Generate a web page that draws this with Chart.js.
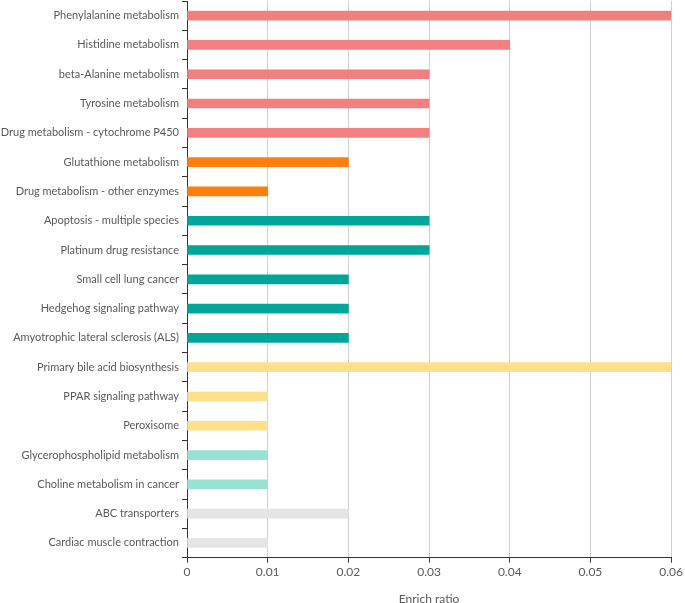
<!DOCTYPE html>
<html>
<head>
<meta charset="utf-8">
<script src="https://cdn.jsdelivr.net/npm/chart.js@4/dist/chart.umd.min.js"></script>
<style>
html,body{margin:0;padding:0;background:#fff;}
#wrap{width:685px;height:603px;position:relative;}
</style>
</head>
<body>
<div id="wrap"><canvas id="c"></canvas></div>
<script>
const categories = [
  "Phenylalanine metabolism",
  "Histidine metabolism",
  "beta-Alanine metabolism",
  "Tyrosine metabolism",
  "Drug metabolism - cytochrome P450",
  "Glutathione metabolism",
  "Drug metabolism - other enzymes",
  "Apoptosis - multiple species",
  "Platinum drug resistance",
  "Small cell lung cancer",
  "Hedgehog signaling pathway",
  "Amyotrophic lateral sclerosis (ALS)",
  "Primary bile acid biosynthesis",
  "PPAR signaling pathway",
  "Peroxisome",
  "Glycerophospholipid metabolism",
  "Choline metabolism in cancer",
  "ABC transporters",
  "Cardiac muscle contraction"
];
const enrichRatio = [0.06, 0.04, 0.03, 0.03, 0.03, 0.02, 0.01, 0.03, 0.03, 0.02, 0.02, 0.02, 0.06, 0.01, 0.01, 0.01, 0.01, 0.02, 0.01];
const groupIndex = [0,0,0,0,0,1,1,2,2,2,2,2,3,3,3,4,4,5,5];
const groupColors = ["#F28080", "#FF7F0E", "#00A69A", "#FFE08A", "#98E2D4", "#E5E5E5"];
const xTicks = [0, 0.01, 0.02, 0.03, 0.04, 0.05, 0.06];

const font = "Lato, 'Open Sans', sans-serif";

new Chart(document.getElementById('c'), {
  type: 'bar',
  data: {
    labels: categories,
    datasets: [{
      data: enrichRatio,
      backgroundColor: groupIndex.map(g => groupColors[g]),
      borderWidth: 0,
      barThickness: 9
    }]
  },
  options: {
    indexAxis: 'y',
    responsive: true,
    maintainAspectRatio: false,
    animation: false,
    layout: { padding: { top: 1, left: 0, right: 0, bottom: -2 } },
    plugins: { legend: { display: false }, tooltip: { enabled: false } },
    scales: {
      x: {
        min: 0, max: 0.06,
        afterBuildTicks: s => { s.ticks = xTicks.map(v => ({ value: v })); },
        ticks: { color: '#595959', font: { family: font, size: 12, lineHeight: 1.2 }, padding: 2, maxRotation: 0,
          callback: v => String(+v.toFixed(2)) },
        grid: { color: '#d0d0d0', tickColor: '#333', tickLength: 5, drawTicks: true },
        border: { color: '#333', width: 1 },
        title: { display: true, text: 'Enrich ratio', color: '#595959', font: { family: font, size: 12, lineHeight: 1.0 }, padding: { top: 12, bottom: 0 } }
      },
      y: {
        afterFit: s => { s.width = 187; s.paddingTop = 0; s.paddingBottom = 0; },
        ticks: { color: '#595959', font: { family: font, size: 11 }, padding: 3, autoSkip: false },
        grid: { offset: true, drawOnChartArea: false, tickColor: '#333', tickLength: 5 },
        border: { color: '#333', width: 1 }
      }
    }
  }
});
</script>
</body>
</html>
